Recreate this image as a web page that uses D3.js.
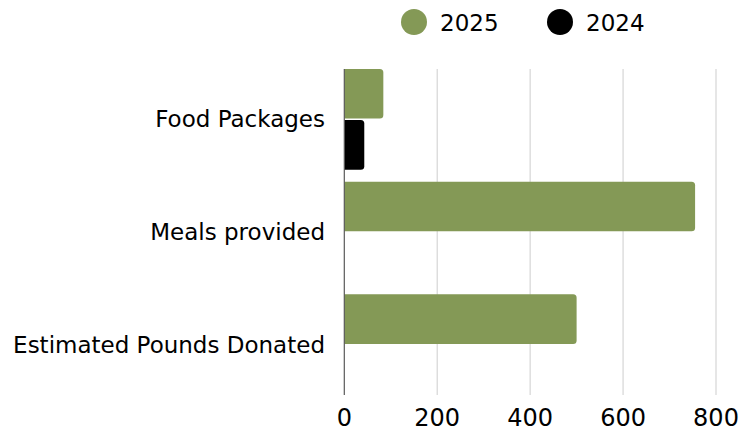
<!DOCTYPE html>
<html><head><meta charset="utf-8">
<script src="https://cdn.jsdelivr.net/npm/d3@7"></script>
<style>body{margin:0;background:#fff;}svg{display:block;font-family:"DejaVu Sans",sans-serif;}</style>
</head><body>
<svg id="c" width="740" height="428"></svg>
<script>
const categories = ["Food Packages", "Meals provided", "Estimated Pounds Donated"];
const seriesNames = ["2025", "2024"];
const values2025 = [84, 755, 500];
const values2024 = [43, 0, 0];
const tickValues = [0, 200, 400, 600, 800];
const colors = ["#849956", "#000000"];

const svg = d3.select("#c");
const x = d3.scaleLinear().domain([0, 800]).range([344.3, 716]);
const y0 = d3.scaleBand().domain(categories).range([69, 395]).paddingInner(0.106).paddingOuter(0);
const y1 = d3.scaleBand().domain(seriesNames).range([0, y0.bandwidth()]).paddingInner(0.03);

// gridlines
svg.append("g").selectAll("line").data(tickValues.filter(d => d > 0)).join("line")
  .attr("x1", d => x(d)).attr("x2", d => x(d)).attr("y1", 69).attr("y2", 395)
  .attr("stroke", "#d9d9d9").attr("stroke-width", 1.3);

const data = [];
categories.forEach((c, i) => {
  data.push({c, s: "2025", v: values2025[i], col: colors[0]});
  data.push({c, s: "2024", v: values2024[i], col: colors[1]});
});

function barPath(d) {
  const x0 = x(0), x1 = x(d.v), yt = y0(d.c) + y1(d.s), h = y1.bandwidth();
  const r = Math.min(3.5, (x1 - x0) / 2);
  return `M${x0},${yt}H${x1 - r}Q${x1},${yt} ${x1},${yt + r}V${yt + h - r}Q${x1},${yt + h} ${x1 - r},${yt + h}H${x0}Z`;
}
svg.append("g").selectAll("path").data(data.filter(d => d.v > 0)).join("path")
  .attr("d", barPath).attr("fill", d => d.col);

// axis line
svg.append("line").attr("x1", x(0)).attr("x2", x(0)).attr("y1", 69).attr("y2", 395)
  .attr("stroke", "#595959").attr("stroke-width", 1.2);

// category labels
svg.append("g").selectAll("text").data(categories).join("text")
  .attr("x", 325).attr("y", d => y0(d) + y0.bandwidth() / 2)
  .attr("text-anchor", "end").attr("dominant-baseline", "central")
  .attr("font-size", 23).attr("fill", "#000").text(d => d);

// tick labels
svg.append("g").selectAll("text").data(tickValues).join("text")
  .attr("x", d => x(d)).attr("y", 418)
  .attr("text-anchor", "middle").attr("dominant-baseline", "central")
  .attr("font-size", 24).attr("fill", "#000").text(d => d);

// legend
const leg = [{n: "2025", cx: 414, tx: 440, col: colors[0]}, {n: "2024", cx: 560, tx: 586, col: colors[1]}];
const lg = svg.append("g").selectAll("g").data(leg).join("g");
lg.append("circle").attr("cx", d => d.cx).attr("cy", 22).attr("r", 13).attr("fill", d => d.col);
lg.append("text").attr("x", d => d.tx).attr("y", 23).attr("dominant-baseline", "central")
  .attr("font-size", 23).attr("fill", "#000").text(d => d.n);
</script>
</body></html>
